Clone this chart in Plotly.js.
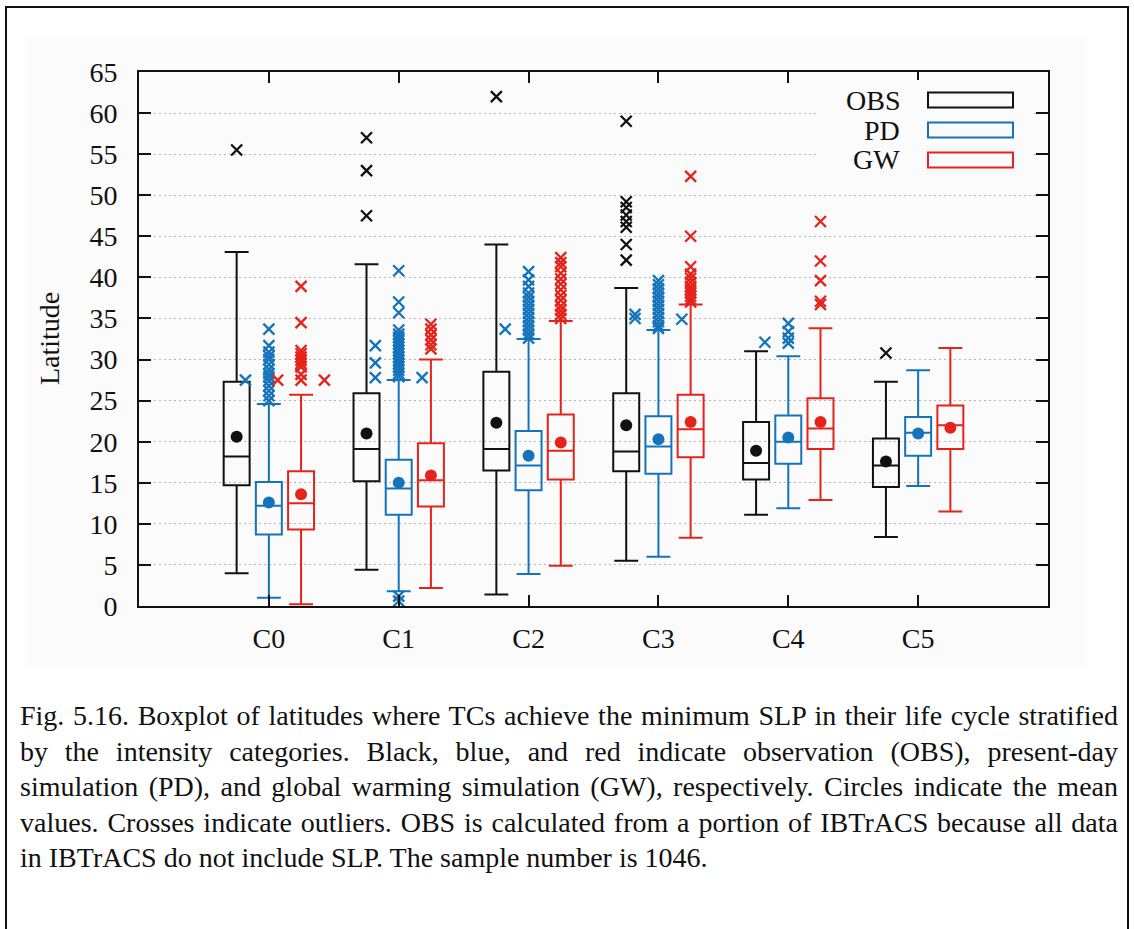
<!DOCTYPE html>
<html>
<head>
<meta charset="utf-8">
<script src="https://cdn.plot.ly/plotly-3.0.1.min.js"></script>
<style>
  html, body { margin: 0; padding: 0; background: #ffffff; }
  body { width: 1134px; height: 929px; position: relative; overflow: hidden; }
  #frame {
    position: absolute; left: 5px; top: 6px; width: 1120px; height: 940px;
    border: 2px solid #111; box-sizing: content-box;
  }
  #chart { position: absolute; left: 27px; top: 37px; width: 1058px; height: 630px; }
  #caption {
    position: absolute; left: 20px; top: 698px; width: 1098px;
    font-family: "Liberation Serif", "Times New Roman", serif;
    font-size: 28px; line-height: 35.5px; color: #111;
    text-align: justify;
  }
</style>
</head>
<body>
<div id="frame"></div>
<div id="chart"></div>
<div id="caption">Fig. 5.16. Boxplot of latitudes where TCs achieve the minimum SLP in their life cycle stratified by the intensity categories. Black, blue, and red indicate observation (OBS), present-day simulation (PD), and global warming simulation (GW), respectively. Circles indicate the mean values. Crosses indicate outliers. OBS is calculated from a portion of IBTrACS because all data in IBTrACS do not include SLP. The sample number is 1046.</div>
<script>
// Intensity categories and experiment names
const categories = ['C0', 'C1', 'C2', 'C3', 'C4', 'C5'];
const seriesNames = ['OBS', 'PD', 'GW'];

// OBS box statistics (latitude, degrees)
const obsLower  = [4.0, 4.4, 1.4, 5.5, 11.1, 8.4];
const obsQ1     = [14.7, 15.2, 16.5, 16.4, 15.4, 14.5];
const obsMedian = [18.2, 19.1, 19.1, 18.8, 17.4, 17.1];
const obsQ3     = [27.3, 25.9, 28.5, 25.9, 22.4, 20.4];
const obsUpper  = [43.1, 41.6, 44.0, 38.7, 31.0, 27.3];
const obsMean   = [20.6, 21.0, 22.3, 22.0, 18.9, 17.6];

// PD box statistics
const pdLower  = [1.0, 1.8, 3.9, 6.0, 11.9, 14.6];
const pdQ1     = [8.7, 11.1, 14.1, 16.1, 17.3, 18.3];
const pdMedian = [12.2, 14.3, 17.1, 19.4, 20.0, 21.1];
const pdQ3     = [15.1, 17.8, 21.3, 23.1, 23.2, 23.0];
const pdUpper  = [24.6, 27.5, 32.5, 33.6, 30.4, 28.7];
const pdMean   = [12.6, 15.0, 18.3, 20.3, 20.5, 21.0];

// GW box statistics
const gwLower  = [0.2, 2.2, 4.9, 8.3, 12.9, 11.5];
const gwQ1     = [9.3, 12.1, 15.4, 18.1, 19.1, 19.1];
const gwMedian = [12.5, 15.3, 18.9, 21.5, 21.6, 22.0];
const gwQ3     = [16.4, 19.8, 23.3, 25.7, 25.3, 24.4];
const gwUpper  = [25.7, 30.0, 34.7, 36.7, 33.8, 31.4];
const gwMean   = [13.6, 15.9, 19.9, 22.4, 22.4, 21.7];

// Outliers per category
const obsOutliers = [
  [55.5],
  [57.0, 53.0, 47.5],
  [62.0],
  [59.0, 49.2, 48.5, 47.6, 46.8, 46.1, 44.0, 42.1],
  [],
  [30.8]
];
const pdOutliers = [
  [33.7, 31.7, 30.9, 30.4, 30.0, 29.4, 28.8, 28.3, 27.9, 27.4, 26.8, 26.2, 25.6, 25.0],
  [40.8, 37.0, 35.7, 33.6, 33.1, 32.7, 32.3, 31.9, 31.5, 31.1, 30.7, 30.3, 29.9, 29.5, 29.1, 28.7, 28.3, 27.9, 1.2, 0.6],
  [40.7, 39.7, 38.9, 38.1, 37.6, 37.1, 36.6, 36.1, 35.6, 35.1, 34.6, 34.1, 33.6, 33.1, 32.6],
  [39.6, 39.1, 38.6, 38.1, 37.6, 37.1, 36.6, 36.1, 35.6, 35.1, 34.6, 34.1, 33.8],
  [34.4, 33.4, 32.6, 32.0],
  []
];
const gwOutliers = [
  [38.9, 34.5, 31.1, 30.7, 30.3, 29.9, 29.5, 29.1, 28.2, 27.5],
  [34.3, 33.7, 33.0, 32.4, 31.8, 31.3],
  [42.4, 41.8, 41.3, 40.5, 39.8, 39.2, 38.5, 37.8, 37.2, 36.5, 36.0, 35.5, 35.0],
  [52.3, 45.0, 41.3, 40.4, 39.9, 39.4, 38.9, 38.5, 38.1, 37.7, 37.3, 37.0],
  [46.8, 42.0, 39.6, 37.1, 36.7],
  []
];
// Coincident outliers spread sideways (left / right of their own box)
const pdOutliersLeft  = [[27.5], [31.7, 29.6, 27.8], [33.7], [35.0, 35.5], [32.1], []];
const pdOutliersRight = [[], [27.8], [], [34.9], [], []];
const gwOutliersLeft  = [[27.5], [], [], [], [], []];
const gwOutliersRight = [[27.5], [], [], [], [], []];

const colors = ['#111111', '#1473ba', '#e5231b'];
const groupOffset = [-0.248, 0, 0.248];
const spread = 0.18;
const boxWidth = 0.2;
const FONT = '"Liberation Serif", "Times New Roman", serif';

const stats = [
  { lower: obsLower, q1: obsQ1, median: obsMedian, q3: obsQ3, upper: obsUpper, mean: obsMean,
    out: obsOutliers, left: null, right: null },
  { lower: pdLower, q1: pdQ1, median: pdMedian, q3: pdQ3, upper: pdUpper, mean: pdMean,
    out: pdOutliers, left: pdOutliersLeft, right: pdOutliersRight },
  { lower: gwLower, q1: gwQ1, median: gwMedian, q3: gwQ3, upper: gwUpper, mean: gwMean,
    out: gwOutliers, left: gwOutliersLeft, right: gwOutliersRight }
];

const traces = [];
const xpos = (s) => categories.map((c, i) => i + groupOffset[s]);

// Boxes
stats.forEach((st, s) => {
  traces.push({
    type: 'box', name: seriesNames[s], showlegend: false,
    x: xpos(s), q1: st.q1, median: st.median, q3: st.q3,
    lowerfence: st.lower, upperfence: st.upper,
    boxpoints: false, width: boxWidth, whiskerwidth: 0.92,
    line: { color: colors[s], width: 2 },
    fillcolor: 'rgba(0,0,0,0)', hoverinfo: 'skip'
  });
});

// Outlier crosses
function outlierTrace(lists, s, shift) {
  const xs = [], ys = [];
  lists.forEach((vals, i) => vals.forEach(v => { xs.push(i + groupOffset[s] + shift); ys.push(v); }));
  return {
    type: 'scatter', mode: 'markers', x: xs, y: ys, showlegend: false, hoverinfo: 'skip',
    marker: { symbol: 'x-thin-open', size: 11, color: colors[s], line: { color: colors[s], width: 2.3 } }
  };
}
stats.forEach((st, s) => {
  traces.push(outlierTrace(st.out, s, 0));
  if (st.left) traces.push(outlierTrace(st.left, s, -spread));
  if (st.right) traces.push(outlierTrace(st.right, s, spread));
});

// Mean circles
stats.forEach((st, s) => {
  traces.push({
    type: 'scatter', mode: 'markers', x: xpos(s), y: st.mean, showlegend: false, hoverinfo: 'skip',
    marker: { symbol: 'circle', size: 12, color: colors[s] }
  });
});

// Legend drawn in the top-right corner of the plot area (pixel helpers relative to the plot box)
const BG = '#fbfbfb';
const PL = 139, PR = 1048, PT = 72, PB = 606;
const fx = (px) => (px - PL) / (PR - PL);
const fy = (py) => (PB - py) / (PB - PT);
const shapes = [{
  type: 'rect', xref: 'paper', yref: 'paper', layer: 'above',
  x0: fx(818), x1: fx(1032), y0: fy(174), y1: fy(80),
  line: { width: 0 }, fillcolor: BG
}];
const annotations = [];
const legendRows = [100, 130, 160];
seriesNames.forEach((nm, s) => {
  const cy = legendRows[s];
  shapes.push({
    type: 'rect', xref: 'paper', yref: 'paper', layer: 'above',
    x0: fx(928), x1: fx(1013), y0: fy(cy + 7.5), y1: fy(cy - 7.5),
    line: { color: colors[s], width: 2 }, fillcolor: 'rgba(0,0,0,0)'
  });
  annotations.push({
    xref: 'paper', yref: 'paper', x: fx(902), y: fy(cy), xanchor: 'right', yanchor: 'middle',
    text: nm, showarrow: false, font: { family: FONT, size: 28, color: '#111' }
  });
});
// Y-axis title
annotations.push({
  xref: 'paper', yref: 'paper', x: 0, xshift: -90, y: 0.5, xanchor: 'center', yanchor: 'middle',
  text: 'Latitude', textangle: -90, showarrow: false, font: { family: FONT, size: 28, color: '#111' }
});

const layout = {
  width: 1058, height: 630,
  margin: { l: 112, r: 37, t: 35, b: 61, pad: 0 },
  paper_bgcolor: BG, plot_bgcolor: BG,
  font: { family: FONT, size: 28, color: '#111' },
  showlegend: false,
  xaxis: {
    range: [-1, 6], tickvals: categories.map((c, i) => i), ticktext: categories,
    showgrid: false, zeroline: false,
    showline: true, linecolor: '#111', linewidth: 2, mirror: 'ticks',
    ticks: 'inside', ticklen: 11, tickwidth: 2, tickcolor: '#111',
    ticklabelstandoff: 6,
    tickfont: { family: FONT, size: 28, color: '#111' }
  },
  yaxis: {
    range: [0, 65], dtick: 5, tick0: 0,
    showgrid: true, gridcolor: '#b5b5b5', gridwidth: 1, griddash: '2px,3px',
    zeroline: false,
    showline: true, linecolor: '#111', linewidth: 2, mirror: 'ticks',
    ticks: 'inside', ticklen: 12, tickwidth: 2, tickcolor: '#111',
    ticklabelstandoff: 14,
    tickfont: { family: FONT, size: 28, color: '#111' }
  },
  shapes: shapes,
  annotations: annotations
};

Plotly.newPlot('chart', traces, layout, { displayModeBar: false, staticPlot: true });
</script>
</body>
</html>
